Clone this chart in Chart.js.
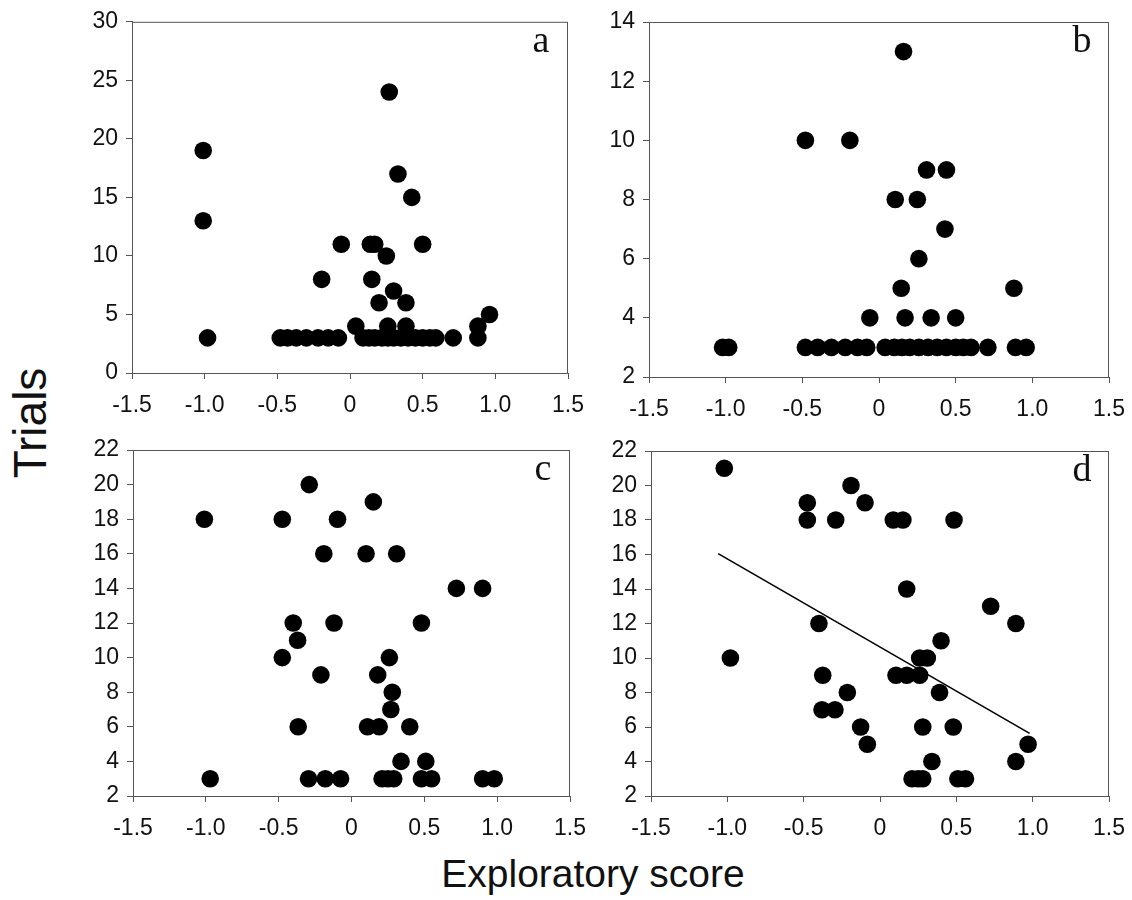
<!DOCTYPE html>
<html>
<head>
<meta charset="utf-8">
<script src="https://cdn.jsdelivr.net/npm/chart.js@4.4.1/dist/chart.umd.min.js"></script>
<style>
  body { margin: 0; background: #fff; }
  #wrap { position: relative; width: 1132px; height: 900px; background: #fff; overflow: hidden; }
  canvas { position: absolute; }
  .ylab {
    position: absolute; left: 30px; top: 423px;
    font-family: 'Liberation Sans', Arial, sans-serif; font-size: 46px; color: #111;
    transform: translate(-50%, -50%) rotate(-90deg); white-space: nowrap;
  }
  .xlab {
    position: absolute; left: 593px; top: 852px;
    font-family: 'Liberation Sans', Arial, sans-serif; font-size: 39px; color: #111;
    transform: translateX(-50%); white-space: nowrap;
  }
</style>
</head>
<body>
<div id="wrap">
  <canvas id="panelA" width="520" height="420" style="left:70px;top:0px"></canvas>
  <canvas id="panelB" width="540" height="420" style="left:590px;top:0px"></canvas>
  <canvas id="panelC" width="520" height="420" style="left:70px;top:425px"></canvas>
  <canvas id="panelD" width="540" height="420" style="left:590px;top:425px"></canvas>
  <div class="ylab">Trials</div>
  <div class="xlab">Exploratory score</div>
</div>
<script>
// tick labels
var xTickLabels = ['-1.5', '-1.0', '-0.5', '0', '0.5', '1.0', '1.5'];
var yTicksA = ['0', '5', '10', '15', '20', '25', '30'];
var yTicksB = ['2', '4', '6', '8', '10', '12', '14'];
var yTicksCD = ['2', '4', '6', '8', '10', '12', '14', '16', '18', '20', '22'];

// panel a
var scoreA = [-1.01, -1.01, -0.98, 0.27, 0.33, 0.425, -0.06, 0.14, 0.17, 0.50, 0.25, -0.195, 0.15,
  0.20, 0.30, 0.385, 0.96, 0.88, 0.88, 0.04, 0.26, 0.385,
  -0.48, -0.43, -0.37, -0.30, -0.22, -0.15, -0.08,
  0.09, 0.13, 0.17, 0.22, 0.26, 0.30, 0.35, 0.40, 0.45, 0.50, 0.55, 0.59, 0.71];
var trialsA = [19, 13, 3, 24, 17, 15, 11, 11, 11, 11, 10, 8, 8,
  6, 7, 6, 5, 4, 3, 4, 4, 4,
  3, 3, 3, 3, 3, 3, 3,
  3, 3, 3, 3, 3, 3, 3, 3, 3, 3, 3, 3, 3];

// panel b
var scoreB = [0.16, -0.48, -0.19, 0.31, 0.44, 0.106, 0.25, 0.43, 0.26, 0.145, 0.88,
  -0.06, 0.17, 0.34, 0.50,
  -1.02, -0.98,
  -0.48, -0.40, -0.31, -0.22, -0.14, -0.08,
  0.04, 0.10, 0.15, 0.20, 0.26, 0.32, 0.38, 0.44, 0.50, 0.55, 0.60,
  0.71, 0.89, 0.96];
var trialsB = [13, 10, 10, 9, 9, 8, 8, 7, 6, 5, 5,
  4, 4, 4, 4,
  3, 3,
  3, 3, 3, 3, 3, 3,
  3, 3, 3, 3, 3, 3, 3, 3, 3, 3, 3,
  3, 3, 3];

// panel c
var scoreC = [-1.01, -0.97, -0.475, -0.29, -0.096, 0.15, -0.19, 0.10, 0.31, 0.72, 0.90,
  -0.40, -0.12, 0.48, -0.37, -0.475, 0.26, -0.21, 0.18, 0.28, 0.27,
  -0.366, 0.11, 0.19, 0.40, 0.34, 0.51,
  -0.295, -0.18, -0.075, 0.21, 0.25, 0.29, 0.48, 0.55, 0.90, 0.98];
var trialsC = [18, 3, 18, 20, 18, 19, 16, 16, 16, 14, 14,
  12, 12, 12, 11, 10, 10, 9, 9, 8, 7,
  6, 6, 6, 6, 4, 4,
  3, 3, 3, 3, 3, 3, 3, 3, 3, 3];

// panel d
var scoreD = [-1.02, -0.98, -0.476, -0.476, -0.29, -0.19, -0.098, 0.087, 0.15, 0.485,
  0.175, 0.725, 0.89, -0.40, 0.40, 0.26, 0.31, 0.105, 0.175, 0.26, -0.375,
  -0.214, 0.39, -0.38, -0.295, -0.127, 0.28, 0.48, -0.083, 0.97, 0.34, 0.89,
  0.21, 0.25, 0.28, 0.51, 0.56];
var trialsD = [21, 10, 19, 18, 18, 20, 19, 18, 18, 18,
  14, 13, 12, 12, 11, 10, 10, 9, 9, 9, 9,
  8, 8, 7, 7, 6, 6, 6, 5, 5, 4, 4,
  3, 3, 3, 3, 3];

// regression line in panel d
var fitScoreD = [-1.06, 0.98];
var fitTrialsD = [16.05, 5.63];

function toPoints(xs, ys) {
  return xs.map(function (x, i) { return { x: x, y: ys[i] }; });
}

var framePlugin = {
  id: 'frame',
  afterDraw: function (chart, args, opts) {
    var a = chart.chartArea, ctx = chart.ctx;
    ctx.save();
    ctx.strokeStyle = '#555';
    ctx.lineWidth = 1;
    ctx.strokeRect(a.left + 0.5, a.top + 0.5, a.right - a.left - 1, a.bottom - a.top);
    ctx.fillStyle = '#111';
    ctx.font = '38px "Liberation Serif", "Times New Roman", serif';
    ctx.textAlign = 'center';
    ctx.textBaseline = 'alphabetic';
    ctx.fillText(opts.letter, a.right - 27, a.top + 30);
    ctx.restore();
  }
};

function makePanel(id, area, yMin, yMax, yStep, yLabels, xs, ys, letter, fit) {
  var canvas = document.getElementById(id);
  var cLeft = parseInt(canvas.style.left), cTop = parseInt(canvas.style.top);
  var datasets = [{
    type: 'scatter',
    data: toPoints(xs, ys),
    backgroundColor: '#000',
    borderWidth: 0,
    pointRadius: 8.8
  }];
  if (fit) {
    datasets.push({
      type: 'line',
      data: toPoints(fit[0], fit[1]),
      borderColor: '#000',
      borderWidth: 1.6,
      pointRadius: 0,
      fill: false
    });
  }
  var tickFont = { family: "'Liberation Sans', Arial, sans-serif", size: 23 };
  var xTickFont = { family: "'Liberation Sans', Arial, sans-serif", size: 23, lineHeight: 2.0 };
  return new Chart(canvas.getContext('2d'), {
    type: 'scatter',
    data: { datasets: datasets },
    options: {
      responsive: false,
      animation: false,
      devicePixelRatio: 1,
      layout: {
        padding: { top: area.top - cTop, right: canvas.width - (area.right - cLeft), left: 0, bottom: 0 }
      },
      plugins: { legend: { display: false }, tooltip: { enabled: false }, frame: { letter: letter } },
      scales: {
        x: {
          type: 'linear', min: -1.5, max: 1.5,
          afterFit: function (s) { s.height = canvas.height - (area.bottom - cTop); },
          ticks: {
            stepSize: 0.5, color: '#111', font: xTickFont, padding: 4, maxRotation: 0,
            callback: function (v, i) { return xTickLabels[i]; }
          },
          grid: { drawOnChartArea: false, drawTicks: true, tickLength: 6, color: '#555' },
          border: { color: '#555', width: 1 }
        },
        y: {
          type: 'linear', min: yMin, max: yMax,
          afterFit: function (s) { s.width = area.left - cLeft; },
          ticks: {
            stepSize: yStep, color: '#111', font: tickFont, padding: 8,
            callback: function (v, i) { return yLabels[i]; }
          },
          grid: { drawOnChartArea: false, drawTicks: true, tickLength: 6, color: '#555' },
          border: { color: '#555', width: 1 }
        }
      }
    },
    plugins: [framePlugin]
  });
}

makePanel('panelA', { left: 132, right: 568, top: 21, bottom: 373 }, 0, 30, 5, yTicksA, scoreA, trialsA, 'a');
makePanel('panelB', { left: 649, right: 1109, top: 22, bottom: 377 }, 2, 14, 2, yTicksB, scoreB, trialsB, 'b');
makePanel('panelC', { left: 133, right: 570, top: 450, bottom: 796 }, 2, 22, 2, yTicksCD, scoreC, trialsC, 'c');
makePanel('panelD', { left: 651, right: 1109, top: 451, bottom: 796 }, 2, 22, 2, yTicksCD, scoreD, trialsD, 'd',
  [fitScoreD, fitTrialsD]);
</script>
</body>
</html>
